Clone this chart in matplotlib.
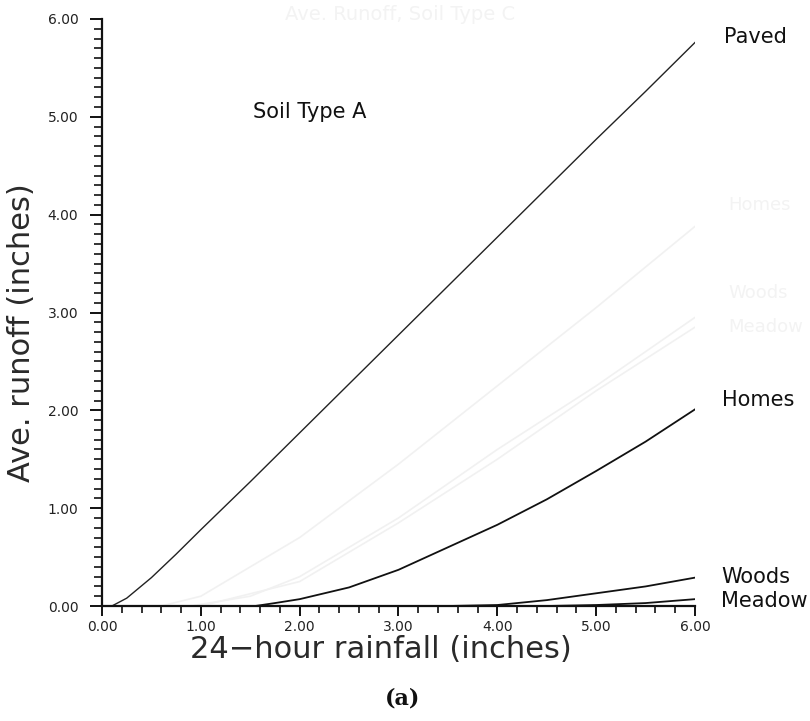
import numpy as np
import matplotlib.pyplot as plt
from matplotlib.ticker import MultipleLocator, FormatStrFormatter

# ── data ─────────────────────────────────────────────────────────────────────
paved_x = [0.10, 0.25, 0.50, 0.75, 1.00, 1.50, 2.00, 2.50, 3.00, 3.50, 4.00, 4.50, 5.00, 5.50, 6.00]
paved_y = [0.00, 0.08, 0.29, 0.53, 0.78, 1.27, 1.77, 2.27, 2.77, 3.27, 3.77, 4.27, 4.77, 5.26, 5.76]

homes_x = [1.55, 1.75, 2.00, 2.50, 3.00, 3.50, 4.00, 4.50, 5.00, 5.50, 6.00]
homes_y = [0.00, 0.03, 0.07, 0.19, 0.37, 0.60, 0.83, 1.09, 1.38, 1.68, 2.01]

woods_x = [3.50, 4.00, 4.50, 5.00, 5.50, 6.00]
woods_y = [0.00, 0.01, 0.06, 0.13, 0.20, 0.29]

meadow_x = [4.50, 5.00, 5.50, 6.00]
meadow_y = [0.00, 0.01, 0.03, 0.07]

# faint show-through from the other side of the page (Soil Type C)
ghost_homes_x = [0.6, 1.0, 2.0, 3.0, 4.0, 5.0, 6.0]
ghost_homes_y = [0.0, 0.10, 0.70, 1.45, 2.25, 3.05, 3.88]
ghost_woods_x = [0.9, 1.5, 2.0, 3.0, 4.0, 5.0, 6.0]
ghost_woods_y = [0.0, 0.10, 0.30, 0.90, 1.60, 2.25, 2.95]
ghost_meadow_x = [1.0, 2.0, 3.0, 4.0, 5.0, 6.0]
ghost_meadow_y = [0.0, 0.25, 0.85, 1.50, 2.20, 2.85]

W, H = 810, 721


def px(x, y):
    # pixel position in the reference -> figure fraction
    return x / W, 1 - y / H


fig = plt.figure(figsize=(8.1, 7.21), dpi=100)
ax = fig.add_axes([102 / W, 1 - 606 / H, 593 / W, 587 / H])

ghost = "#f1f1f1"
ax.plot(ghost_homes_x, ghost_homes_y, color=ghost, lw=1.2)
ax.plot(ghost_woods_x, ghost_woods_y, color=ghost, lw=1.2)
ax.plot(ghost_meadow_x, ghost_meadow_y, color=ghost, lw=1.2)

ax.plot(paved_x, paved_y, color="#222222", lw=1.0)
ax.plot(homes_x, homes_y, color="#111111", lw=1.3)
ax.plot(woods_x, woods_y, color="#111111", lw=1.3)
ax.plot(meadow_x, meadow_y, color="#111111", lw=1.3)

ax.set_xlim(0, 6)
ax.set_ylim(0, 6)
for s in ("top", "right"):
    ax.spines[s].set_visible(False)
for s in ("left", "bottom"):
    ax.spines[s].set_linewidth(1.6)
    ax.spines[s].set_color("#111111")

ax.xaxis.set_major_locator(MultipleLocator(1))
ax.xaxis.set_minor_locator(MultipleLocator(0.2))
ax.yaxis.set_major_locator(MultipleLocator(1))
ax.yaxis.set_minor_locator(MultipleLocator(0.1))
ax.xaxis.set_major_formatter(FormatStrFormatter("%.2f"))
ax.yaxis.set_major_formatter(FormatStrFormatter("%.2f"))

ax.tick_params(axis="y", which="major", direction="out", length=9, width=1.4,
               pad=8, labelsize=10, color="#111111", labelcolor="#222222")
ax.tick_params(axis="y", which="minor", direction="out", length=6, width=1.2,
               color="#111111")
ax.tick_params(axis="x", which="major", direction="out", length=7, width=1.4,
               pad=3, labelsize=10, color="#111111", labelcolor="#222222")
ax.tick_params(axis="x", which="minor", direction="out", length=5, width=1.2,
               color="#111111")

# axis titles
fig.text(*px(381, 650), "24\u2212hour rainfall (inches)", fontsize=22,
         ha="center", va="center", color="#2a2a2a")
fig.text(*px(22, 333), "Ave. runoff (inches)", fontsize=22, rotation=90,
         ha="center", va="center", color="#2a2a2a")

# curve labels
lbl = dict(fontsize=15, ha="left", va="center", color="#111111")
fig.text(*px(724, 37), "Paved", **lbl)
fig.text(*px(722, 400), "Homes", **lbl)
fig.text(*px(721, 577), "Woods", **lbl)
fig.text(*px(721, 601), "Meadow", **lbl)
fig.text(*px(253, 112), "Soil Type A", fontsize=15, ha="left", va="center",
         color="#111111")

# ghost texts
gl = dict(fontsize=13, ha="left", va="center", color="#f3f3f3")
fig.text(*px(400, 15), "Ave. Runoff, Soil Type C", fontsize=14, ha="center",
         va="center", color="#f3f3f3")
fig.text(*px(728, 205), "Homes", **gl)
fig.text(*px(728, 293), "Woods", **gl)
fig.text(*px(728, 327), "Meadow", **gl)

fig.text(*px(403, 699), "(a)", fontsize=16, fontweight="bold",
         family="DejaVu Serif", ha="center", va="center", color="#111111")

fig.savefig("out.png", dpi=100)
plt.close()
